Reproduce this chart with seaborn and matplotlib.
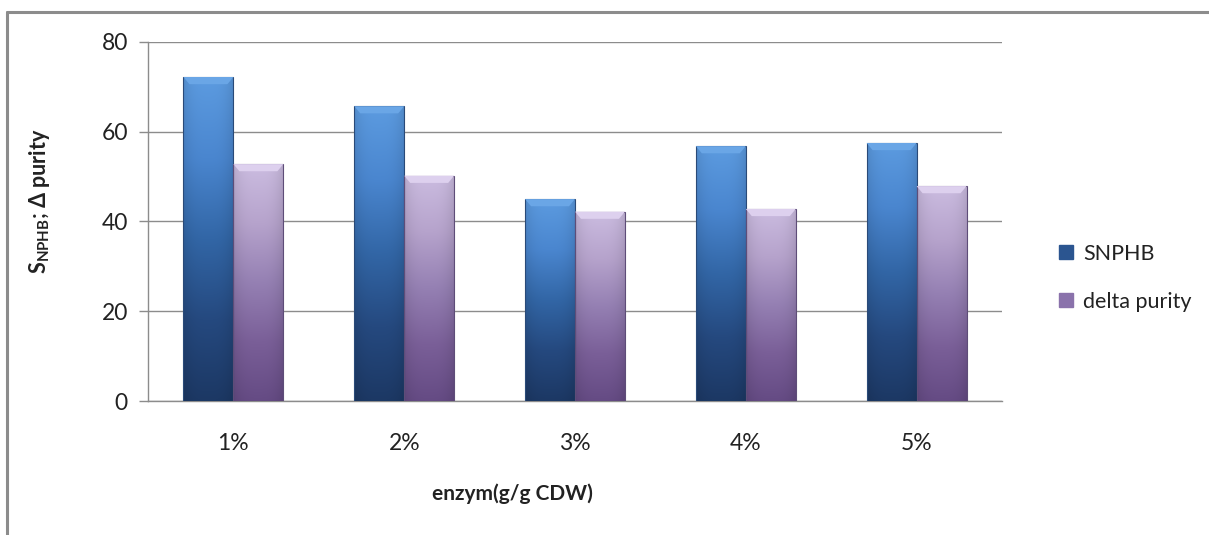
import numpy as np
import pandas as pd
import matplotlib
matplotlib.use("Agg")
import matplotlib.pyplot as plt
from matplotlib.colors import LinearSegmentedColormap
from matplotlib.patches import Rectangle
from matplotlib.lines import Line2D
import seaborn as sns

# Data
categories = ["1%", "2%", "3%", "4%", "5%"]
snphb = [72.2, 65.7, 45.0, 56.8, 57.5]
delta_purity = [52.8, 50.2, 42.2, 42.8, 47.9]
series_names = ["SNPHB", "delta purity"]
y_ticks = [0, 20, 40, 60, 80]

df = pd.DataFrame({
    "category": categories * 2,
    "value": snphb + delta_purity,
    "series": [series_names[0]] * len(categories) + [series_names[1]] * len(categories),
})

sns.set_theme(style="white")
plt.rcParams["font.family"] = ["Lato", "DejaVu Sans"]
plt.rcParams["mathtext.fontset"] = "custom"
plt.rcParams["mathtext.rm"] = "Lato"
plt.rcParams["mathtext.bf"] = "Lato:bold"

W, H = 1209, 535
fig = plt.figure(figsize=(W / 100, H / 100), dpi=100)
ax = fig.add_axes([148 / W, 1 - 401 / H, (1002 - 148) / W, (401 - 42) / H])

palette = {"SNPHB": "#3a6fb0", "delta purity": "#9a82b8"}
sns.barplot(data=df, x="category", y="value", hue="series", order=categories,
            hue_order=series_names, palette=palette, width=0.585, dodge=True,
            errorbar=None, ax=ax, legend=False, zorder=3)

# gradient fills for each bar
grad = {
    "SNPHB": LinearSegmentedColormap.from_list(
        "b", ["#1c3864", "#25497f", "#3266a6", "#4a86cf", "#5c9be0"]),
    "delta purity": LinearSegmentedColormap.from_list(
        "p", ["#654b84", "#7a5f98", "#9580b3", "#b6a3cc", "#cbbce0"]),
}
edge = {"SNPHB": "#2a4a78", "delta purity": "#5e4d78"}
top_light = {"SNPHB": "#6aa6e6", "delta purity": "#ddd0ee"}

vert = np.linspace(0, 1, 256)[:, None]
horiz = np.linspace(-1, 1, 64)[None, :]
shade = 1 - 0.10 * np.abs(horiz) ** 3

bars = [p for p in ax.patches if isinstance(p, Rectangle) and p.get_height() > 0]
n = len(categories)
for i, bar in enumerate(bars):
    name = series_names[0] if i < n else series_names[1]
    x0, y0 = bar.get_x(), bar.get_y()
    w, h = bar.get_width(), bar.get_height()
    cmap = grad[name]
    rgb = cmap(vert)[:, :, :3] * np.ones((1, 64, 1))
    rgb = rgb * shade[:, :, None]
    bar.set_facecolor("none")
    bar.set_edgecolor(edge[name])
    bar.set_linewidth(0.8)
    img = ax.imshow(rgb, extent=[x0, x0 + w, y0, y0 + h], origin="lower",
                    aspect="auto", zorder=2.9, interpolation="bilinear")
    img.set_clip_path(bar)
    # bevelled top face
    bh = 1.6
    dx = w * 0.12
    ax.fill([x0, x0 + w, x0 + w - dx, x0 + dx],
            [y0 + h, y0 + h, y0 + h - bh, y0 + h - bh],
            color=top_light[name], zorder=3.1, lw=0)

ax.set_xlim(-0.5, n - 0.5)
ax.set_ylim(0, 80)
ax.set_yticks(y_ticks)
ax.set_yticklabels([str(t) for t in y_ticks], fontsize=16.5, color="#222222")
ax.set_xticks(range(n))
ax.set_xticklabels(categories, fontsize=16.5, color="#222222")
ax.set_xticks(np.arange(-0.5, n, 1.0), minor=True)
ax.tick_params(axis="x", which="major", length=0, pad=23)
ax.tick_params(axis="x", which="minor", length=6, width=1, color="#8c8c8c", direction="out")
ax.tick_params(axis="y", length=6.5, width=1, color="#8c8c8c", direction="out", left=True, pad=8)

ax.yaxis.grid(True, color="#8c8c8c", linewidth=1, zorder=0)
ax.set_axisbelow(True)
for s in ["top", "right"]:
    ax.spines[s].set_visible(False)
for s in ["left", "bottom"]:
    ax.spines[s].set_color("#8c8c8c")
    ax.spines[s].set_linewidth(1)
ax.set_xlabel("")
ax.set_ylabel("")

fig.text(512 / W, 1 - 494 / H, "enzym(g/g CDW)", ha="center", va="center",
         fontsize=15, fontweight="bold", color="#222222")
fig.text(40 / W, 1 - 201 / H, r"S$_{\mathbf{NPHB}}$; Δ purity", ha="center", va="center",
         rotation=90, fontsize=15.5, fontweight="bold", color="#222222")

# legend
handles = [
    Line2D([], [], marker="s", linestyle="none", markersize=9.5,
           markerfacecolor="#2b5590", markeredgecolor="#2b5590"),
    Line2D([], [], marker="s", linestyle="none", markersize=9.5,
           markerfacecolor="#8a72ab", markeredgecolor="#8a72ab"),
]
fig.legend(handles, series_names, loc="center left",
           bbox_to_anchor=(1036 / W, 1 - 278 / H), frameon=False,
           fontsize=15.5, handletextpad=0.3, labelspacing=1.3,
           handlelength=1.0, labelcolor="#222222")

# outer chart border
fig.add_artist(Line2D([7 / W, 7 / W], [0, 1 - 12 / H], transform=fig.transFigure,
                      color="#8c8c8c", linewidth=2.2))
fig.add_artist(Line2D([7 / W, 1], [1 - 12 / H, 1 - 12 / H], transform=fig.transFigure,
                      color="#8c8c8c", linewidth=2.2))

fig.savefig("out.png", dpi=100, facecolor="white")
